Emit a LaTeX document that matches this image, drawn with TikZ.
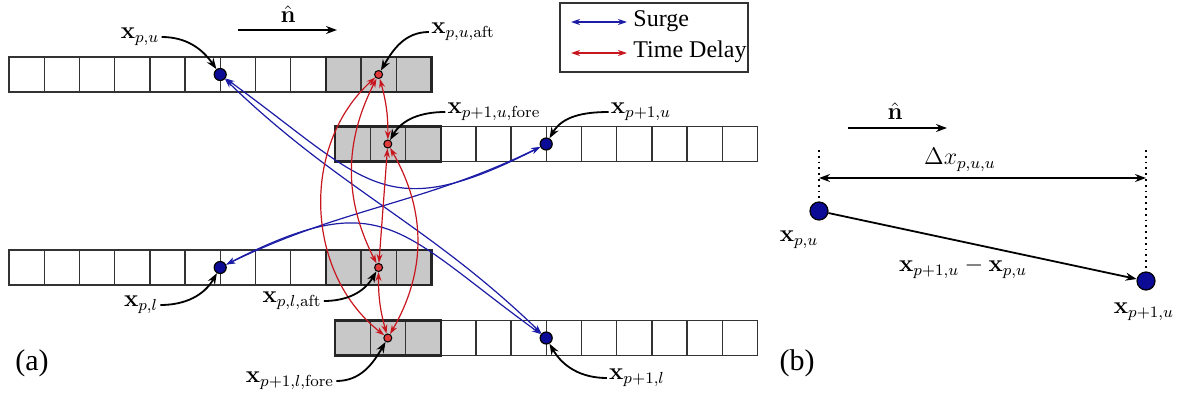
\documentclass[tikz,border=0pt,12pt]{standalone}
\usepackage[no-math]{fontspec}
\setmainfont{Liberation Serif}
\usepackage{amsmath,amssymb}
\usetikzlibrary{arrows.meta,positioning}
\definecolor{SurgeBlue}{HTML}{1C1CA6}
\definecolor{DelayRed}{HTML}{C8161E}
\definecolor{DotBlue}{HTML}{0B0B96}
\definecolor{DotRed}{HTML}{E03C3C}
\definecolor{CellGray}{HTML}{C8C8C8}
\tikzset{
  cell/.style={draw=black!80,line width=0.7pt},
  block/.style={draw=black!85,line width=1.1pt},
  bdot/.style={circle,draw=black,line width=0.6pt,fill=DotBlue,inner sep=0pt,minimum size=6pt},
  rdot/.style={circle,draw=black,line width=0.5pt,fill=DotRed,inner sep=0pt,minimum size=4pt},
  surge/.style={SurgeBlue,line width=0.6pt,{Stealth[length=4.5pt,width=3pt]}-{Stealth[length=4.5pt,width=3pt]}},
  delay/.style={DelayRed,line width=0.6pt,{Stealth[length=4.5pt,width=3pt]}-{Stealth[length=4.5pt,width=3pt]}},
  pointer/.style={line width=0.9pt,-{Stealth[length=5.5pt,width=4pt]}},
  lbl/.style={inner sep=1pt},
}
\begin{document}
\begin{tikzpicture}[x=0.5pt,y=0.5pt]
        \useasboundingbox (0,0) rectangle (1189,398);
        % cell rows (x, y, first gray cell)
        \foreach \x/\y/\g in {9/306/9, 335/236.5/0, 9/113/9, 335/42.5/0}{
          \fill[CellGray] ({\x+\g*35.2},\y) rectangle +(105.6,35);
          \foreach \i in {0,...,11}
            \draw[cell] ({\x+\i*35.2},\y) rectangle +(35.2,35);
          \draw[block] ({\x+\g*35.2},\y) rectangle +(105.6,35);
        }
        % points
        \node[bdot] (pu) at (220.2,323.5) {};
        \node[rdot] (puaft) at (378.6,323.5) {};
        \node[rdot] (p1ufore) at (387.8,254) {};
        \node[bdot] (p1u) at (546.2,254) {};
        \node[bdot] (pl) at (220.2,130.5) {};
        \node[rdot] (plaft) at (378.6,130.5) {};
        \node[rdot] (p1lfore) at (387.8,60) {};
        \node[bdot] (p1l) at (546.2,60) {};
        % surge links
        \draw[surge] (pu) to[out=-36,in=207,looseness=1.4] (p1u);
        \draw[surge] (pu) to[out=-44,in=136] (p1l);
        \draw[surge] (pl) to[out=26,in=206] (p1u);
        \draw[surge] (pl) to[out=27,in=144,looseness=1.4] (p1l);
        % time delay links
        \draw[delay] (puaft) to[bend right=50] (p1lfore);
        \draw[delay] (puaft) to[bend right=27] (plaft);
        \draw[delay] (puaft) to[bend left=8] (p1ufore);
        \draw[delay] (p1ufore) -- (plaft);
        \draw[delay] (p1ufore) to[bend left=30] (p1lfore);
        \draw[delay] (plaft) to[bend right=8] (p1lfore);
        % labels
        \node[lbl] (lpu) at (140,361) {$\mathbf{x}_{p,u}$};
        \draw[pointer] (lpu.east) to[out=0,in=125] (pu);
        \node[lbl] (lpuaft) at (463,366) {$\mathbf{x}_{p,u,\mathrm{aft}}$};
        \draw[pointer] (lpuaft.west) to[out=180,in=60] (puaft);
        \node[lbl] (lp1ufore) at (494,286) {$\mathbf{x}_{p+1,u,\mathrm{fore}}$};
        \draw[pointer] (lp1ufore.west) to[out=180,in=60] (p1ufore);
        \node[lbl] (lp1u) at (641,286) {$\mathbf{x}_{p+1,u}$};
        \draw[pointer] (lp1u.west) to[out=180,in=60] (p1u);
        \node[lbl] (lpl) at (141,93) {$\mathbf{x}_{p,l}$};
        \draw[pointer] (lpl.east) to[out=0,in=240] (pl);
        \node[lbl] (lplaft) at (292,97) {$\mathbf{x}_{p,l,\mathrm{aft}}$};
        \draw[pointer] (lplaft.east) to[out=0,in=240] (plaft);
        \node[lbl] (lp1lfore) at (290,17) {$\mathbf{x}_{p+1,l,\mathrm{fore}}$};
        \draw[pointer] (lp1lfore.east) to[out=0,in=240] (p1lfore);
        \node[lbl] (lp1l) at (637,20) {$\mathbf{x}_{p+1,l}$};
        \draw[pointer] (lp1l.west) to[out=180,in=300] (p1l);
        % normal direction
        \coordinate (na) at (238,368);
        \coordinate (nb) at (337,368);
        \draw[pointer] (na) -- (nb);
        \node (nhat) at (288,384) {$\hat{\mathbf{n}}$};
        % legend
        \draw[line width=0.6pt,black!80] (560,326) rectangle (748,395);
        \coordinate (sa) at (571,376);
        \coordinate (sb) at (627,376);
        \draw[surge,line width=0.8pt] (sa) -- (sb);
        \node[anchor=west,inner sep=0pt] (tsurge) at (633,377) {Surge};
        \coordinate (da) at (571,345);
        \coordinate (db) at (627,345);
        \draw[delay,line width=0.8pt] (da) -- (db);
        \node[anchor=west,inner sep=0pt] (tdelay) at (633,346) {Time Delay};
        \node[font=\fontsize{15}{18}\selectfont] (taga) at (32,35) {(a)};
        % part (b)
        \coordinate (nb1) at (848,270);
        \coordinate (nb2) at (947,270);
        \draw[pointer] (nb1) -- (nb2);
        \node (nhatb) at (895,287) {$\hat{\mathbf{n}}$};
        \node[bdot,minimum size=9pt] (qa) at (819,187) {};
        \node[bdot,minimum size=9pt] (qb) at (1146,117) {};
        \coordinate (ta) at (819,248);
        \coordinate (tb) at (1146,248);
        \draw[dotted,line width=0.9pt] (ta) -- (qa.north);
        \draw[dotted,line width=0.9pt] (tb) -- (qb.north);
        \coordinate (dxa) at (819,220);
        \coordinate (dxb) at (1146,220);
        \draw[line width=0.8pt,{Stealth[length=5.5pt,width=4pt]}-{Stealth[length=5.5pt,width=4pt]}] (dxa) -- (dxb);
        \node (ldx) at (960,238) {$\Delta x_{p,u,u}$};
        \draw[pointer] (qa) -- (qb);
        \node (lqa) at (799,158) {$\mathbf{x}_{p,u}$};
        \node (ldiff) at (963,130) {$\mathbf{x}_{p+1,u}-\mathbf{x}_{p,u}$};
        \node (lqb) at (1144,86) {$\mathbf{x}_{p+1,u}$};
        \node[font=\fontsize{15}{18}\selectfont] (tagb) at (797,35) {(b)};
      \end{tikzpicture}
\end{document}
